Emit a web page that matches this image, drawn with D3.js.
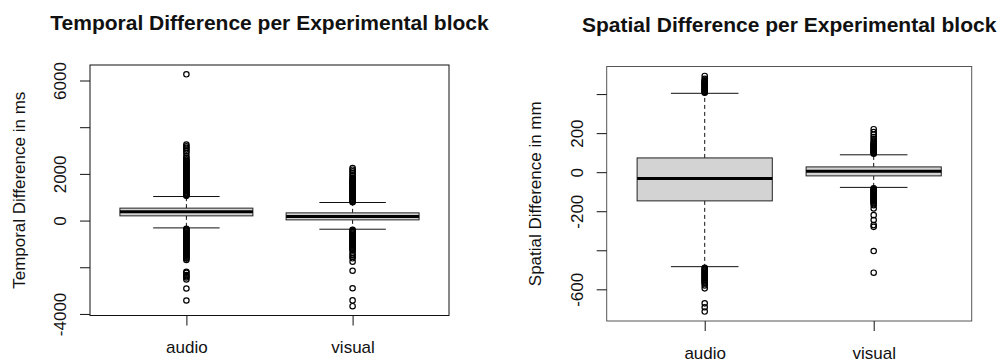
<!DOCTYPE html>
<html>
<head>
<meta charset="utf-8">
<script src="https://cdn.jsdelivr.net/npm/d3@7"></script>
<style>
  body { margin: 0; background: #fff; }
  svg text { font-family: "Liberation Sans", Arial, sans-serif; fill: #111; }
</style>
</head>
<body>
<div id="my_dataviz"></div>
<script>

// categories (x groups)
var categories = ["audio", "visual"];

// box stats: [lower whisker, Q1, median, Q3, upper whisker]
var temporalAudioBox  = [-314, 202, 374, 533, 1030];
var temporalVisualBox = [-370, 30, 172, 330, 774];
var spatialAudioBox   = [-484, -147, -32, 73, 404];
var spatialVisualBox  = [-78, -19, 5, 27, 89];

// outliers (dense runs listed point by point)
var temporalAudioOut = [
  6267, 3256, 3183, 3113, 3040, 2967, 2880, 2752, 2680,
  2610, 2570, 2530, 2490, 2450, 2410, 2370, 2330, 2290, 2250, 2210, 2170, 2130, 2090,
  2050, 2010, 1970, 1930, 1890, 1850, 1810, 1770, 1730, 1690, 1650, 1610, 1570, 1530,
  1490, 1450, 1410, 1370, 1330, 1290, 1250, 1210, 1170, 1130, 1090, 1060,
  -350, -390, -430, -470, -510, -550, -590, -630, -670, -710, -750, -790, -830, -870,
  -910, -950, -990, -1030, -1070, -1110, -1150, -1190, -1230, -1270, -1310, -1350,
  -1390, -1430, -1470, -1510, -1550, -1590, -1630, -1690,
  -2194, -2236, -2335, -2380, -2435, -2520, -2910, -3424
];
var temporalVisualOut = [
  2253, 2180, 2108, 2040, 1966, 1900, 1823,
  1780, 1740, 1700, 1660, 1620, 1580, 1540, 1500, 1460, 1420, 1380, 1340, 1300, 1260,
  1220, 1180, 1140, 1100, 1060, 1020, 980, 940, 900, 860, 820, 790,
  -400, -440, -480, -520, -560, -600, -640, -680, -720, -760, -800, -840, -880, -920,
  -960, -1000, -1040, -1080, -1120, -1160, -1200, -1240, -1280,
  -1400, -1475, -1548, -1617, -1763, -2150, -2900, -3420, -3669
];
var spatialAudioOut = [
  493, 478, 471, 466, 462, 458, 454, 450, 446, 442, 438, 434, 430, 426, 422, 418, 414, 410, 407,
  -490, -495, -500, -505, -510, -515, -520, -525, -530, -535, -540, -545, -550, -555,
  -560, -565, -570, -580, -595, -672, -692, -714
];
var spatialVisualOut = [
  220, 205, 192, 180, 170, 160, 150, 146, 142, 138, 134, 130, 126, 122, 118, 114, 110, 106, 102, 98, 94,
  -82, -86, -90, -94, -98, -102, -106, -110, -114, -118, -122, -126, -130, -134, -138,
  -142, -146, -150, -155, -160, -169, -186, -220, -245, -271, -280, -404, -515
];

// y ticks and labels (R drops the labels that would overlap)
var temporalTicks = [-4000, -2000, 0, 2000, 4000, 6000];
var temporalTickLabels = ["-4000", "", "0", "2000", "", "6000"];
var spatialTicks = [-600, -400, -200, 0, 200, 400];
var spatialTickLabels = ["-600", "", "-200", "0", "200", ""];

var width = 1002, height = 361;

var svg = d3.select("#my_dataviz")
    .append("svg")
    .attr("width", width)
    .attr("height", height);

var panels = [
  {
    title: "Temporal Difference per Experimental block",
    ylab: "Temporal Difference in ms",
    boxes: [temporalAudioBox, temporalVisualBox],
    outs: [temporalAudioOut, temporalVisualOut],
    ticks: temporalTicks, tickLabels: temporalTickLabels,
    left: 90, right: 449, top: 65, bottom: 315.5,
    frame: "#111", titleY: 30, ylabX: 25
  },
  {
    title: "Spatial Difference per Experimental block",
    ylab: "Spatial Difference in mm",
    boxes: [spatialAudioBox, spatialVisualBox],
    outs: [spatialAudioOut, spatialVisualOut],
    ticks: spatialTicks, tickLabels: spatialTickLabels,
    left: 606.7, right: 971.7, top: 66.5, bottom: 321,
    frame: "#555", titleY: 32, ylabX: 540.5
  }
];

panels.forEach(function (p) {

    // R style axis range: data range extended by 4%
    var all = [];
    p.boxes.forEach(function (b) { all = all.concat(b); });
    p.outs.forEach(function (o) { all = all.concat(o); });
    var ext = d3.extent(all);
    var pad = (ext[1] - ext[0]) * 0.04;

    var y = d3.scaleLinear()
        .domain([ext[0] - pad, ext[1] + pad])
        .range([p.bottom, p.top]);

    var x = d3.scaleLinear()
        .domain([0.5 - 0.08, categories.length + 0.5 + 0.08])
        .range([p.left, p.right]);

    var unit = x(2) - x(1);

    var g = svg.append("g");

    // boxes
    p.boxes.forEach(function (b, i) {
        var cx = x(i + 1);
        var bw = unit * 0.8, cw = unit * 0.4;

        // dashed whiskers
        g.append("line")
            .attr("x1", cx).attr("x2", cx)
            .attr("y1", y(b[3])).attr("y2", y(b[4]))
            .attr("stroke", "#111").attr("stroke-dasharray", "4,3");
        g.append("line")
            .attr("x1", cx).attr("x2", cx)
            .attr("y1", y(b[1])).attr("y2", y(b[0]))
            .attr("stroke", "#111").attr("stroke-dasharray", "4,3");

        // staples
        [b[0], b[4]].forEach(function (v) {
            g.append("line")
                .attr("x1", cx - cw / 2).attr("x2", cx + cw / 2)
                .attr("y1", y(v)).attr("y2", y(v))
                .attr("stroke", "#111");
        });

        g.append("rect")
            .attr("x", cx - bw / 2)
            .attr("y", y(b[3]))
            .attr("width", bw)
            .attr("height", y(b[1]) - y(b[3]))
            .attr("fill", "#d3d3d3")
            .attr("stroke", "#222");

        g.append("line")
            .attr("x1", cx - bw / 2).attr("x2", cx + bw / 2)
            .attr("y1", y(b[2])).attr("y2", y(b[2]))
            .attr("stroke", "#000").attr("stroke-width", 3);

        // outliers
        g.selectAll(null)
            .data(p.outs[i])
            .enter()
            .append("circle")
            .attr("cx", cx)
            .attr("cy", function (d) { return y(d); })
            .attr("r", 2.7)
            .attr("fill", "none")
            .attr("stroke", "#000")
            .attr("stroke-width", 1.2);
    });

    // frame
    g.append("rect")
        .attr("x", p.left).attr("y", p.top)
        .attr("width", p.right - p.left)
        .attr("height", p.bottom - p.top)
        .attr("fill", "none")
        .attr("stroke", p.frame);

    // y axis
    var ya = g.append("g")
        .attr("transform", "translate(" + p.left + ",0)")
        .call(d3.axisLeft(y)
            .tickValues(p.ticks)
            .tickSize(10)
            .tickFormat(function (d, i) { return p.tickLabels[i]; }));
    ya.select(".domain").remove();
    ya.selectAll(".tick line").attr("stroke", "#111");
    ya.selectAll(".tick text")
        .attr("transform", "rotate(-90)")
        .attr("x", 0).attr("y", -24).attr("dy", 0)
        .attr("text-anchor", "middle")
        .style("font-size", "17px")
        .style("font-family", "Liberation Sans, Arial, sans-serif")
        .attr("fill", "#111");

    // x axis
    var xa = g.append("g")
        .attr("transform", "translate(0," + p.bottom + ")")
        .call(d3.axisBottom(x)
            .tickValues([1, 2])
            .tickSize(10)
            .tickFormat(function (d) { return categories[d - 1]; }));
    xa.select(".domain").remove();
    xa.selectAll(".tick line").attr("stroke", "#111");
    xa.selectAll(".tick text")
        .attr("y", 37.5).attr("dy", 0)
        .style("font-size", "17px")
        .style("font-family", "Liberation Sans, Arial, sans-serif")
        .attr("fill", "#111");

    // y label
    g.append("text")
        .attr("transform", "translate(" + p.ylabX + "," + ((p.top + p.bottom) / 2) + ") rotate(-90)")
        .attr("text-anchor", "middle")
        .style("font-size", "17px")
        .text(p.ylab);

    // title
    g.append("text")
        .attr("x", (p.left + p.right) / 2)
        .attr("y", p.titleY)
        .attr("text-anchor", "middle")
        .style("font-size", "21px")
        .style("font-weight", "bold")
        .text(p.title);
});

</script>
</body>
</html>
